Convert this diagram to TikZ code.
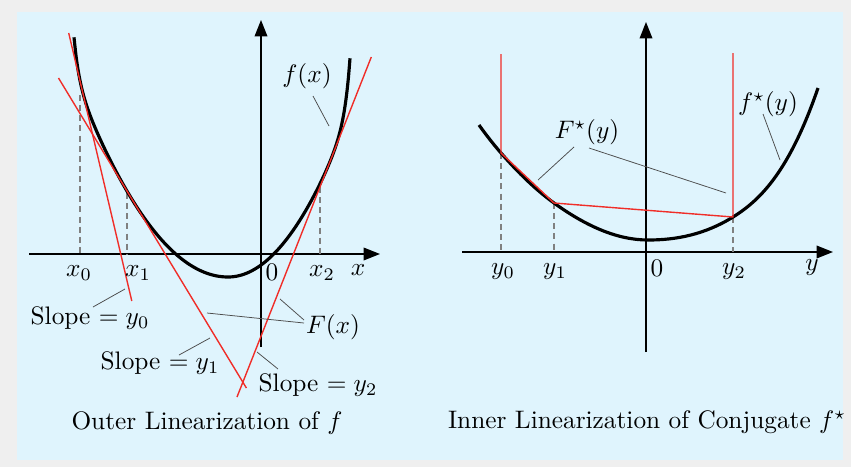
\documentclass[tikz,border=0pt]{standalone}
\usetikzlibrary{arrows.meta}
\definecolor{panelblue}{RGB}{223,244,253}
\definecolor{framegray}{RGB}{239,239,239}
\definecolor{tangred}{RGB}{240,45,40}
\begin{document}
\begin{tikzpicture}[x=0.395pt, y=-0.395pt, >={Triangle[length=6.5pt,width=5pt]},
  axis/.style={line width=0.6pt, ->},
  curve/.style={line width=1.25pt, line join=round},
  tang/.style={tangred, line width=0.55pt},
  guide/.style={gray, dashed, dash pattern=on 2.4pt off 1.6pt, line width=0.45pt},
  lead/.style={black!70, line width=0.3pt}]
	% Nền
	\fill[framegray] (0,0) rectangle (851,467);
	\fill[panelblue] (17,12) rectangle (843,460);
	\useasboundingbox (0,0) rectangle (851,467);
	
	% ===== Hình trái: tuyến tính hóa ngoài =====
	% Chân đường gióng
	\coordinate (G0) at (80,95);
	\coordinate (G1) at (127,193);
	\coordinate (G2) at (320,187);
	\coordinate (A0) at (80,254);
	\coordinate (A1) at (127,254);
	\coordinate (A2) at (320,254);
	
	% Trục tọa độ
	\coordinate (Ox) at (29,254);
	\coordinate (Ex) at (380,254);
	\coordinate (Oy) at (261,347);
	\coordinate (Ey) at (261,20);
	\draw[axis] (Ox) -- (Ex);
	\draw[axis] (Oy) -- (Ey);
	
	% Đường gióng nét đứt
	\draw[guide] (G0) -- (A0);
	\draw[guide] (G1) -- (A1);
	\draw[guide] (G2) -- (A2);
	
	% Đồ thị f(x)
	\draw[curve] plot[domain=74:228, samples=80, smooth]
		(\x, {277 - 84.2*((228-\x)/100)^2 - 40*exp(max((228-\x-154)/5,-20))})
		-- plot[domain=228:350, samples=80, smooth]
		(\x, {277 - 110*((\x-228)/100)^2 - 55*exp(max((\x-228-122)/5,-20))});
	
	% Các tiếp tuyến
	\coordinate (L0a) at (68.7,33);
	\coordinate (L0b) at (131.8,301);
	\coordinate (L1a) at (58.5,78);
	\coordinate (L1b) at (246.4,388);
	\coordinate (L2a) at (371.3,57);
	\coordinate (L2b) at (237,397);
	\draw[tang] (L0a) -- (L0b);
	\draw[tang] (L1a) -- (L1b);
	\draw[tang] (L2a) -- (L2b);
	
	% Nhãn trục
	\node (x0) at (79,273) {$x_0$};
	\node (x1) at (138,273) {$x_1$};
	\node (z1) at (272,272) {$0$};
	\node (x2) at (322,273) {$x_2$};
	\node (xx) at (358,270) {$x$};
	
	% Nhãn và đường dẫn
	\node (fx) at (307,76) {$f(x)$};
	\coordinate (fxa) at (313,96);
	\coordinate (fxb) at (329,126);
	\draw[lead] (fxa) -- (fxb);
	
	\node (s0) at (90,318) {Slope $= y_0$};
	\coordinate (s0a) at (93,307);
	\coordinate (s0b) at (125,289);
	\draw[lead] (s0a) -- (s0b);
	
	\node (s1) at (160,363) {Slope $= y_1$};
	\coordinate (s1a) at (179,355);
	\coordinate (s1b) at (210,338);
	\draw[lead] (s1a) -- (s1b);
	
	\node (s2) at (318,385) {Slope $= y_2$};
	\coordinate (s2a) at (278,369);
	\coordinate (s2b) at (257,352);
	\draw[lead] (s2a) -- (s2b);
	
	\node (Fx) at (333,327) {$F(x)$};
	\coordinate (Fxa) at (304,323);
	\coordinate (Fxb) at (207,313);
	\coordinate (Fxc) at (304,320);
	\coordinate (Fxd) at (280,299);
	\draw[lead] (Fxa) -- (Fxb);
	\draw[lead] (Fxc) -- (Fxd);
	
	\node (capL) at (207,423) {Outer Linearization of $f$};
	
	% ===== Hình phải: tuyến tính hóa trong của liên hợp =====
	\coordinate (P0) at (501,153);
	\coordinate (P1) at (554,203);
	\coordinate (P2) at (733,217);
	\coordinate (B0) at (501,252);
	\coordinate (B1) at (554,252);
	\coordinate (B2) at (733,252);
	\coordinate (U0) at (501,54);
	\coordinate (U2) at (733,53);
	
	% Trục tọa độ
	\coordinate (Oy2) at (462,252);
	\coordinate (Ey2) at (833,252);
	\coordinate (Oz2) at (646,352);
	\coordinate (Ez2) at (646,22);
	\draw[axis] (Oy2) -- (Ey2);
	\draw[axis] (Oz2) -- (Ez2);
	
	% Đường gióng nét đứt
	\draw[guide] (P0) -- (B0);
	\draw[guide] (P1) -- (B1);
	\draw[guide] (P2) -- (B2);
	
	% Đồ thị f*(y)
	\draw[curve] (479,125) .. controls (486.33,135.27) and (493.67,144.57) .. (P0)
		.. controls (518.67,173.32) and (536.33,190.28) .. (P1)
		.. controls (585.33,225.56) and (616.67,240) .. (648,240)
		.. controls (676.33,240) and (704.67,234.57) .. (P2)
		.. controls (761.33,199.43) and (789.67,170.17) .. (818,88);
	
	% Đường gấp khúc F*(y)
	\draw[tang, line join=round] (U0) -- (P0) -- (P1) -- (P2) -- (U2);
	
	% Nhãn trục
	\node (y0) at (503,272) {$y_0$};
	\node (y1) at (555,272) {$y_1$};
	\node (z2) at (657,268) {$0$};
	\node (y2) at (734,272) {$y_2$};
	\node (yy) at (812,268) {$y$};
	
	% Nhãn và đường dẫn
	\node (Fy) at (587,132) {$F^\star(y)$};
	\coordinate (Fya) at (574,147);
	\coordinate (Fyb) at (538,180);
	\coordinate (Fyc) at (589,148);
	\coordinate (Fyd) at (726,193);
	\draw[lead] (Fya) -- (Fyb);
	\draw[lead] (Fyc) -- (Fyd);
	
	\node (fy) at (768,104) {$f^\star(y)$};
	\coordinate (fya) at (763,114);
	\coordinate (fyb) at (780,160);
	\draw[lead] (fya) -- (fyb);
	
	\node (capR) at (647,422) {Inner Linearization of Conjugate $f^\star$};
\end{tikzpicture}
\end{document}
